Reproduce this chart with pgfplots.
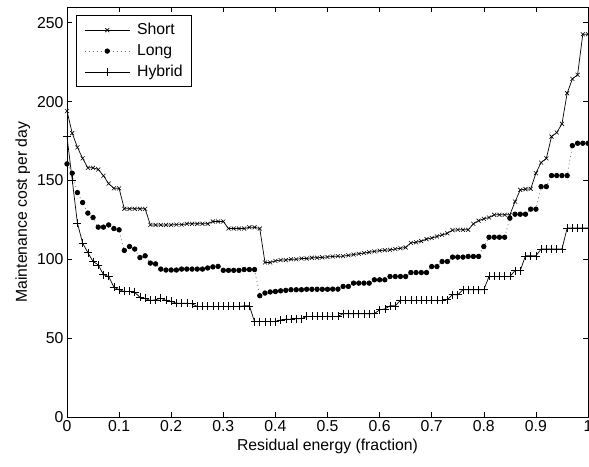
\documentclass[border=0pt]{standalone}
\usepackage{fontspec}
\setmainfont{Liberation Sans}
\usepackage{pgfplots}
\pgfplotsset{compat=1.18}
\usepackage{pgfplotstable}

\pgfplotstableread{
x y
0.00 194
0.01 180
0.02 171
0.03 164
0.04 158
0.05 158
0.06 157
0.07 153
0.08 148
0.09 145
0.10 145
0.11 132
0.12 132
0.13 132
0.14 132
0.15 132
0.16 121.8
0.17 121.8
0.18 121.8
0.19 121.8
0.20 121.8
0.21 122
0.22 122
0.23 122.5
0.24 122.5
0.25 122.5
0.26 122.5
0.27 122.5
0.28 124
0.29 124
0.30 124
0.31 119.5
0.32 119.5
0.33 119.5
0.34 119.5
0.35 120.3
0.36 120.3
0.37 119.5
0.38 98
0.39 98
0.40 99
0.41 99.5
0.42 99.5
0.43 100
0.44 100
0.45 100.5
0.46 100.5
0.47 101
0.48 101
0.49 101.2
0.50 101.5
0.51 101.8
0.52 102
0.53 102
0.54 102.5
0.55 103
0.56 103.5
0.57 104
0.58 104.5
0.59 105
0.60 105.5
0.61 105.8
0.62 106
0.63 106.5
0.64 107
0.65 107.5
0.66 110.4
0.67 110.8
0.68 111.5
0.69 112.8
0.70 113.5
0.71 114.5
0.72 115.5
0.73 116.5
0.74 118.5
0.75 118.7
0.76 118.7
0.77 118.7
0.78 122.5
0.79 124.5
0.80 125.7
0.81 126.5
0.82 128.2
0.83 128.2
0.84 128.2
0.85 128.2
0.86 136.6
0.87 144
0.88 144.5
0.89 144.7
0.90 154.6
0.91 161.3
0.92 164
0.93 177.8
0.94 180.4
0.95 185.9
0.96 205.3
0.97 214.4
0.98 217
0.99 242.7
1.00 242.7
}\shortdata

\pgfplotstableread{
x y
0.00 160.5
0.01 154.6
0.02 142.3
0.03 136
0.04 129.3
0.05 126.5
0.06 120.4
0.07 120.4
0.08 121.8
0.09 119.5
0.10 118.7
0.11 105.6
0.12 108.1
0.13 106.5
0.14 101.1
0.15 102.2
0.16 97.6
0.17 97.1
0.18 93.8
0.19 93.2
0.20 93.2
0.21 93.2
0.22 93.8
0.23 93.8
0.24 93.8
0.25 93.8
0.26 93.8
0.27 94.5
0.28 95.2
0.29 95.5
0.30 93
0.31 93
0.32 93
0.33 93
0.34 93.5
0.35 93.5
0.36 93.5
0.37 76.9
0.38 78.6
0.39 79.3
0.40 79.6
0.41 80
0.42 80.3
0.43 80.7
0.44 80.7
0.45 80.7
0.46 81
0.47 81
0.48 81
0.49 81
0.50 81
0.51 81.1
0.52 81.1
0.53 82.8
0.54 82.8
0.55 84.9
0.56 84.9
0.57 84.9
0.58 84.9
0.59 87
0.60 87
0.61 87
0.62 89.1
0.63 89.1
0.64 89.1
0.65 89.1
0.66 91.6
0.67 91.6
0.68 91.6
0.69 91.6
0.70 95.4
0.71 95.4
0.72 98.6
0.73 98.6
0.74 101.4
0.75 101.4
0.76 101.4
0.77 101.8
0.78 101.8
0.79 101.8
0.80 108.1
0.81 114
0.82 114
0.83 114
0.84 114
0.85 126.1
0.86 128.6
0.87 128.6
0.88 128.6
0.89 131.8
0.90 131.8
0.91 146.1
0.92 146.1
0.93 153.1
0.94 153.1
0.95 153.1
0.96 153.1
0.97 172.1
0.98 173.6
0.99 173.6
1.00 173.6
}\longdata

\pgfplotstableread{
x y
0.00 177.8
0.01 150.4
0.02 122.9
0.03 110.3
0.04 104.3
0.05 98.6
0.06 96.5
0.07 90.2
0.08 89.1
0.09 82.4
0.10 80.7
0.11 79.6
0.12 79.6
0.13 79
0.14 76
0.15 75.2
0.16 73.9
0.17 74.3
0.18 75.4
0.19 73.9
0.20 73.3
0.21 72.2
0.22 72.2
0.23 72.2
0.24 71.8
0.25 70.1
0.26 70.1
0.27 70.1
0.28 70.1
0.29 70.1
0.30 70.1
0.31 70.1
0.32 70.1
0.33 70.1
0.34 70.5
0.35 70.5
0.36 60.5
0.37 60.5
0.38 60.5
0.39 60.5
0.40 60.5
0.41 61.5
0.42 62
0.43 62.1
0.44 62.3
0.45 62.3
0.46 63.8
0.47 63.8
0.48 63.8
0.49 63.8
0.50 63.8
0.51 63.8
0.52 63.8
0.53 65.5
0.54 65.5
0.55 65.5
0.56 65.5
0.57 65.5
0.58 65.5
0.59 65.5
0.60 68
0.61 68.5
0.62 70.5
0.63 70.5
0.64 73.9
0.65 73.9
0.66 73.9
0.67 73.9
0.68 73.9
0.69 73.9
0.70 73.9
0.71 73.9
0.72 73.9
0.73 74.5
0.74 77.5
0.75 77.5
0.76 80.7
0.77 80.7
0.78 80.7
0.79 80.7
0.80 80.7
0.81 89.1
0.82 89.1
0.83 89.1
0.84 89.1
0.85 89.1
0.86 92.9
0.87 92.9
0.88 102.2
0.89 102.2
0.90 102.2
0.91 106.5
0.92 106.5
0.93 106.5
0.94 106.5
0.95 106.5
0.96 119.8
0.97 119.8
0.98 119.8
0.99 119.8
1.00 119.8
}\hybriddata

\begin{document}
\begin{tikzpicture}
\begin{axis}[
  at={(67pt,49pt)}, anchor=south west,
  scale only axis, width=521pt, height=410pt,
  xmin=0, xmax=1, ymin=0, ymax=260,
  xtick={0,0.1,...,1.0},
  xticklabels={0,0.1,0.2,0.3,0.4,0.5,0.6,0.7,0.8,0.9,1},
  ytick={0,50,100,150,200,250},
  tick align=inside, tick pos=both,
  major tick length=5pt,
  axis line style={line width=0.8pt},
  every tick/.style={line width=0.6pt, black},
  /pgf/number format/assume math mode=true,
  tick label style={font=\fontsize{15.8}{18}\selectfont},
  label style={font=\fontsize{15.8}{18}\selectfont},
  xlabel={Residual energy (fraction)},
  ylabel={Maintenance cost per day},
  legend style={at={(0.0173,0.98)}, anchor=north west, draw=black, line width=0.8pt,
    font=\fontsize{15.8}{18}\selectfont, inner xsep=8pt, inner ysep=4pt, row sep=0pt,
    nodes={inner xsep=1pt, inner ysep=3pt, text height=11.5pt, text depth=3.5pt},
    /tikz/every odd column/.append style={column sep=6pt}},
  legend cell align=left,
  legend image code/.code={\draw[#1, mark repeat=2, mark phase=2] plot coordinates {(0pt,0pt) (22.5pt,0pt) (45pt,0pt)};},
]
\addplot[black, line width=0.7pt, mark=x, mark size=2.8pt,
  every mark/.append style={solid, line width=0.6pt}] table[x=x,y=y] {\shortdata};
\addlegendentry{Short}
\addplot[draw=black!55, line width=0.7pt, dash pattern=on 1pt off 3pt, mark=*, mark size=2.3pt,
  mark options={solid, draw=black, fill=black}] table[x=x,y=y] {\longdata};
\addlegendentry{Long}
\addplot[black, line width=0.7pt, mark=+, mark size=4pt,
  every mark/.append style={solid, line width=0.6pt}] table[x=x,y=y] {\hybriddata};
\addlegendentry{Hybrid}
\end{axis}
\pgfresetboundingbox
\path (0pt,0pt) rectangle (589pt,466pt);
\end{tikzpicture}
\end{document}
